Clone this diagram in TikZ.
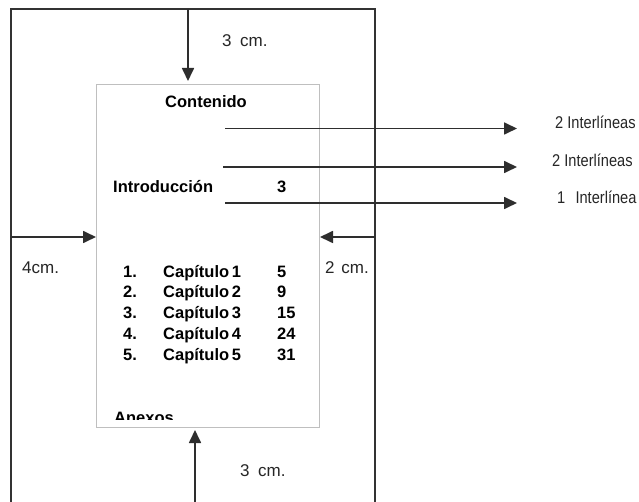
\documentclass[tikz,border=0pt]{standalone}
\usepackage{fontspec}
\setmainfont{Liberation Sans}
\newfontfamily\narrowfont[FakeStretch=0.86]{Liberation Sans}
\usetikzlibrary{arrows.meta}
\begin{document}
\begin{tikzpicture}[x=1pt,y=-1pt,
  frame/.style={line width=2pt,draw=black!80},
  arr/.style={line width=1.7pt,draw=black!82,-{Triangle[length=13pt,width=12pt]}},
  bt/.style={font=\fontsize{16.5}{18}\selectfont\bfseries,inner sep=0pt,anchor=base west},
  lbl/.style={font=\fontsize{17}{19}\selectfont,inner sep=0pt,anchor=base west,text=black!85},
  nlbl/.style={lbl,font=\narrowfont\fontsize{17}{19}\selectfont},
]
\useasboundingbox (0,0) rectangle (639,502);
\fill[white] (0,0) rectangle (639,502);
% page frame
\coordinate (fbl) at (11,502);
\coordinate (ftl) at (11,9);
\coordinate (ftr) at (375,9);
\coordinate (fbr) at (375,502);
\draw[frame] (fbl) -- (ftl) -- (ftr) -- (fbr);
% text area
\node[draw=black!25,line width=1pt,minimum width=223pt,minimum height=343pt,inner sep=0pt,anchor=north west] (page) at (96,84) {};
% margin arrows
\coordinate (topm) at (188,9);
\coordinate (botm) at (195,502);
\coordinate (leftm) at (11,237);
\coordinate (rightm) at (375,237);
\draw[arr,shorten >=3pt] (topm) -- (topm |- page.north);
\draw[arr,shorten >=2pt] (botm) -- (botm |- page.south);
\draw[arr] (leftm) -- (leftm -| page.west);
\draw[arr] (rightm) -- (rightm -| page.east);
% margin labels
\node[lbl] (lt) at (222,47) {3\hspace{0.5em}cm.};
\node[lbl] (ll) at (22,274) {4cm.};
\node[lbl] (lr) at (325,274) {2\hspace{0.4em}cm.};
\node[lbl] (lb) at (240,476) {3\hspace{0.5em}cm.};
% contents
\node[bt] (cont) at (165,108) {Contenido};
\node[bt] (intro) at (113,193) {Introducción};
\node[bt] (introp) at (277,193) {3};
\foreach \n/\yy/\p in {1/278/5,2/298/9,3/318.5/15,4/339/24,5/360/31}{
  \node[bt] (num\n) at (123,\yy) {\n.};
  \node[bt] (cap\n) at (163,\yy) {Capítulo\,\n};
  \node[bt] (pg\n) at (277,\yy) {\p};
}
\begin{scope}
  \clip (96,400) rectangle (319,419);
  \node[bt] (anx) at (114,423) {Anexos};
\end{scope}
% spacing arrows
\coordinate (s1) at (225,128.5);
\coordinate (s2) at (223,167);
\coordinate (s3) at (225,203);
\coordinate (e1) at (517,128.5);
\coordinate (e2) at (517,167);
\coordinate (e3) at (517,203);
\draw[arr] (s1) -- (e1);
\draw[arr] (s2) -- (e2);
\draw[arr] (s3) -- (e3);
\node[nlbl] (i1) at (555,129) {2 Interlíneas};
\node[nlbl] (i2) at (552,167) {2 Interlíneas};
\node[nlbl] (i3) at (557,204) {1\hspace{0.6em}Interlínea};
\end{tikzpicture}
\end{document}
